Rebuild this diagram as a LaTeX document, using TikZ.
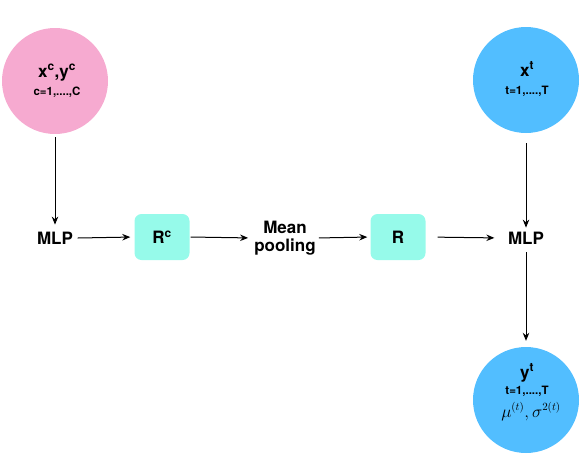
\documentclass[tikz,border=0pt]{standalone}
\usepackage{fontspec}
\setmainfont{TeX Gyre Heros}
\usetikzlibrary{arrows.meta}
\definecolor{pinkc}{RGB}{246,170,208}
\definecolor{bluec}{RGB}{82,190,255}
\definecolor{cyanc}{RGB}{150,250,234}
\begin{document}
\begin{tikzpicture}[x=1pt,y=-1pt,
  circ/.style={circle,fill=#1,minimum size=106pt,inner sep=0pt},
  big/.style={font=\bfseries\fontsize{17}{20}\selectfont,anchor=base,inner sep=0pt},
  small/.style={font=\bfseries\fontsize{11.5}{13}\selectfont,anchor=base,inner sep=0pt},
  rbox/.style={rounded corners=7pt,fill=cyanc,minimum width=55pt,minimum height=46pt,font=\bfseries\fontsize{17}{20}\selectfont},
  lbl/.style={font=\bfseries\fontsize{17}{20}\selectfont,align=center,inner xsep=4.5pt,inner ysep=4pt},
  arr/.style={-{Stealth[length=8pt,width=6.5pt]},line width=1pt}]
\useasboundingbox (0,0) rectangle (581,459);
\node[circ=pinkc] (xc) at (55,81) {};
\node[circ=bluec] (xt) at (526,80) {};
\node[circ=bluec] (yt) at (526,400) {};
\node[big] (xcl) at (57,77) {x\textsuperscript{c},y\textsuperscript{c}};
\node[small] (xcs) at (57,95) {c=1,....,C};
\node[big] (xtl) at (527,76) {x\textsuperscript{t}};
\node[small] (xts) at (527,94) {t=1,....,T};
\node[big] (ytl) at (527,378) {y\textsuperscript{t}};
\node[small] (yts) at (527,394) {t=1,....,T};
\node[anchor=base,inner sep=0pt,font=\fontsize{16}{18}\selectfont] (ytm) at (531,417) {$\mu^{(t)},\sigma^{2(t)}$};
\node[lbl] (mlp1) at (55,238) {MLP};
\node[rbox] (rc) at (162,237) {R\textsuperscript{c}};
\node[lbl,inner xsep=0pt] (mp) at (285,238) {Mean\\[-2pt]pooling};
\node[rbox] (r) at (398,237) {R};
\node[lbl] (mlp2) at (526,238) {MLP};
\draw[arr,shorten <=3pt,shorten >=3pt] (xc.south) -- (mlp1.north);
\draw[arr,shorten >=4pt] (mlp1.east) -- (rc.west);
\draw[arr,shorten <=1pt,shorten >=6pt] (rc.east) -- (mp.west);
\draw[arr,shorten <=3pt,shorten >=3pt] (mp.east) -- (r.west);
\draw[arr,shorten <=12pt,shorten >=9pt] (r.east) -- (mlp2.west);
\draw[arr,shorten <=10pt] (xt.south) -- (mlp2.north);
\draw[arr,shorten <=4pt,shorten >=6pt] (mlp2.south) -- (yt.north);
\end{tikzpicture}
\end{document}
